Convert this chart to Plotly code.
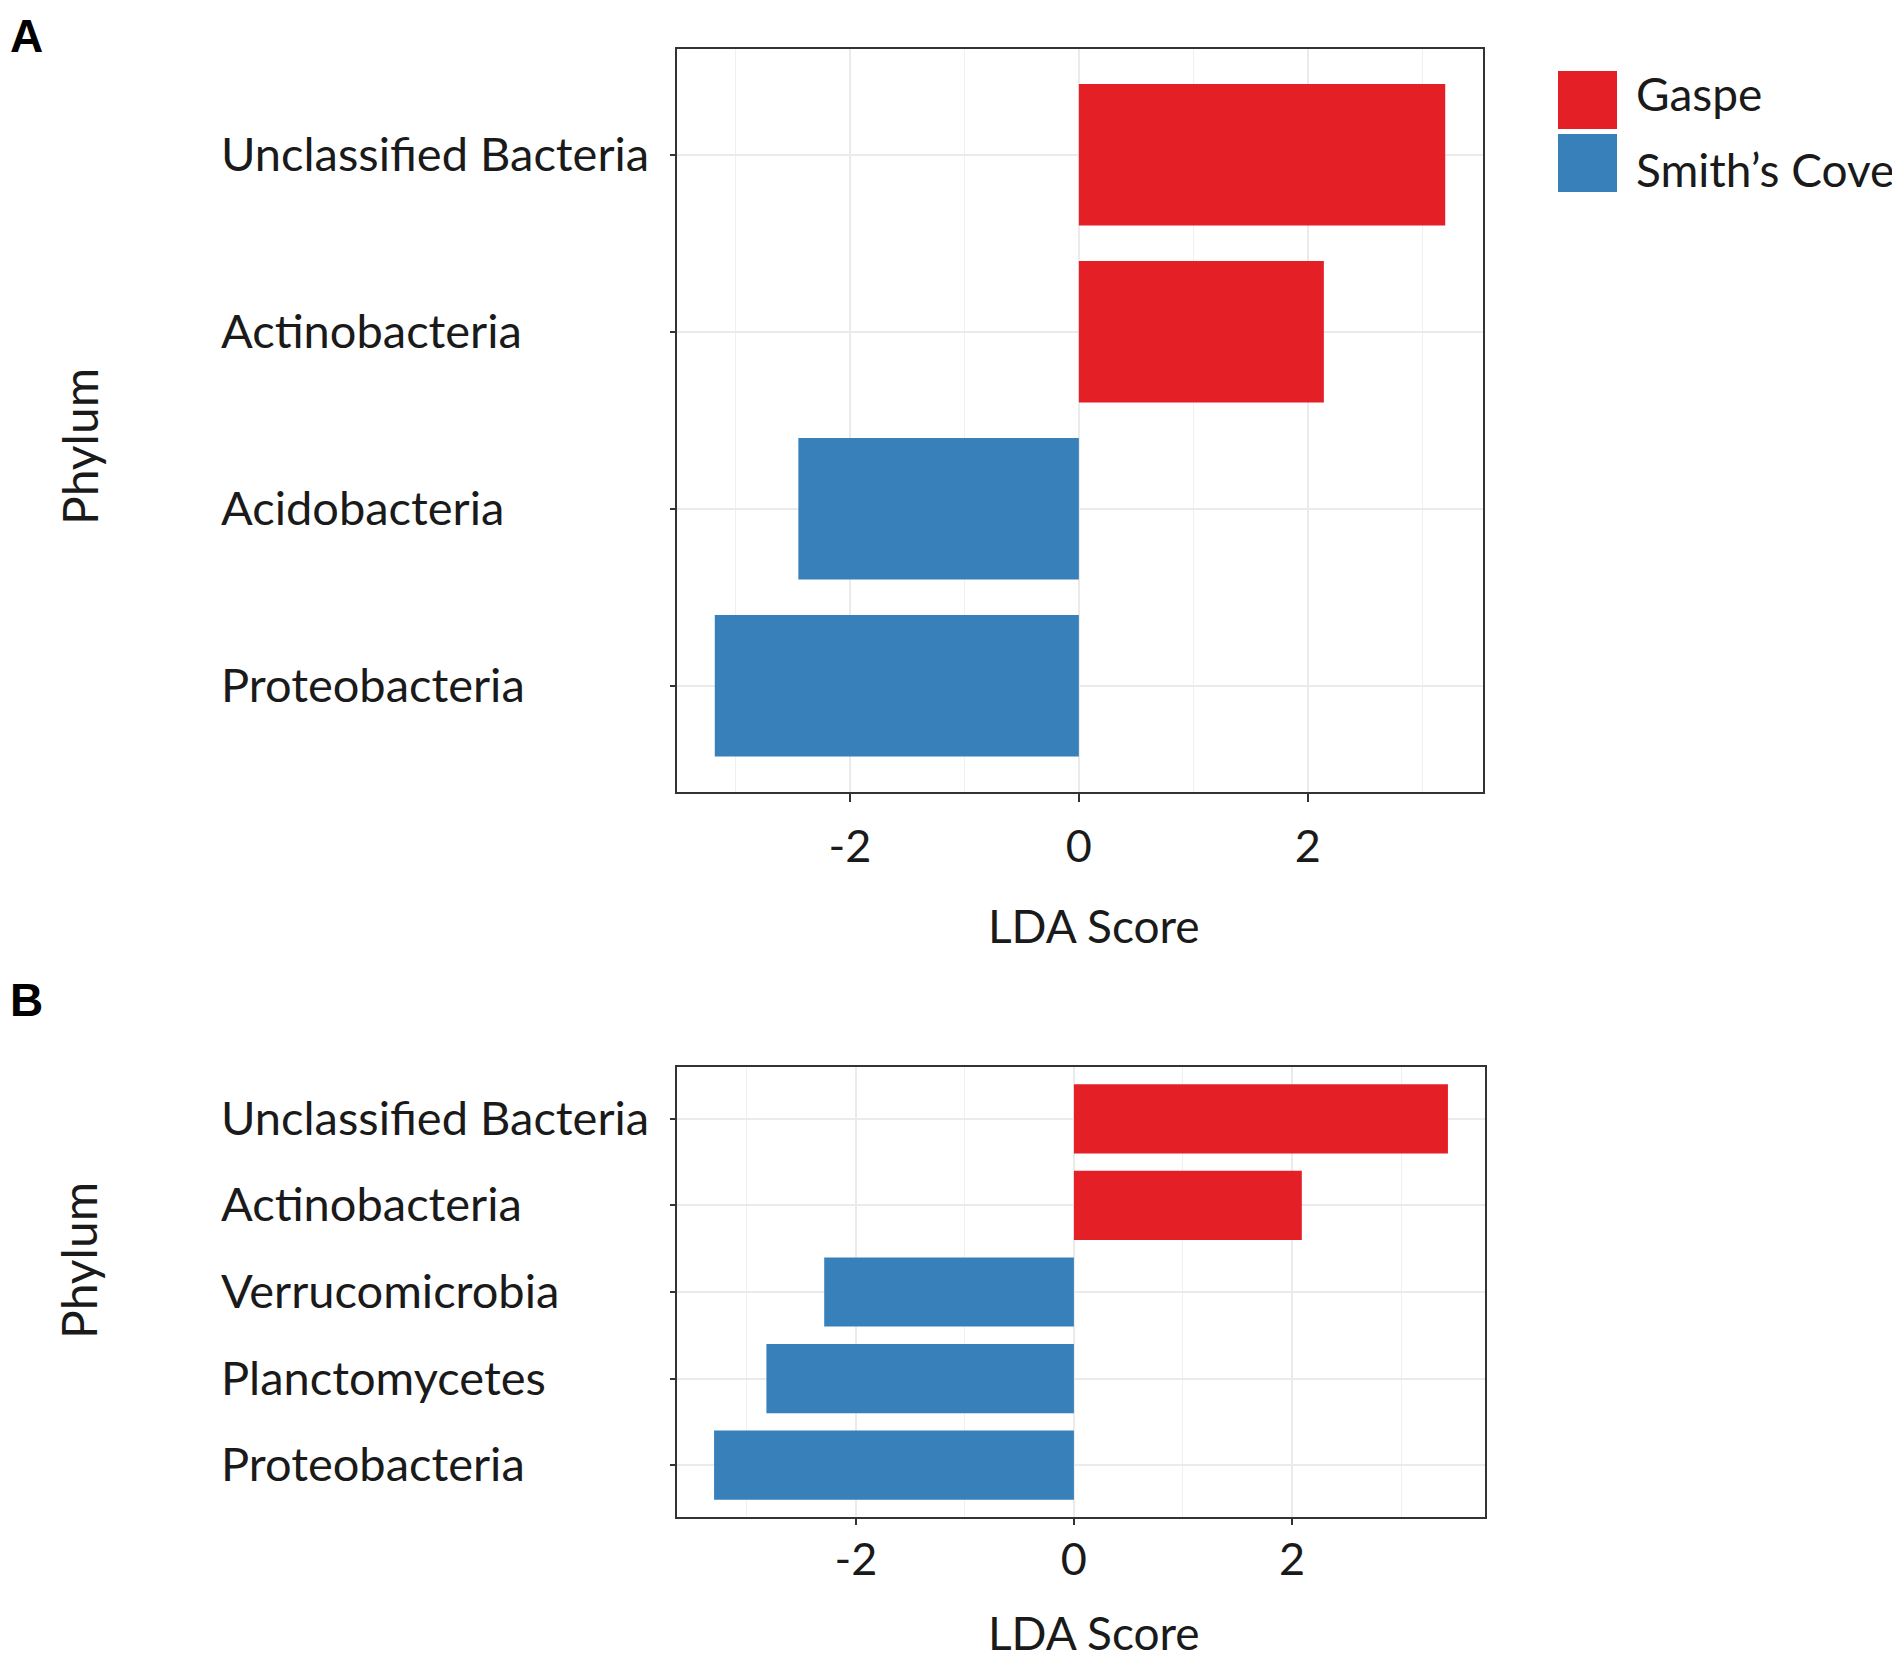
import plotly.graph_objects as go

# LDA scores
phyla_a = ["Unclassified Bacteria", "Actinobacteria", "Acidobacteria", "Proteobacteria"]
lda_a = [3.20, 2.14, -2.45, -3.18]
site_a = ["Gaspe", "Gaspe", "Smith’s Cove", "Smith’s Cove"]

phyla_b = ["Unclassified Bacteria", "Actinobacteria", "Verrucomicrobia", "Planctomycetes", "Proteobacteria"]
lda_b = [3.43, 2.09, -2.29, -2.82, -3.30]
site_b = ["Gaspe", "Gaspe", "Smith’s Cove", "Smith’s Cove", "Smith’s Cove"]

sites = ["Gaspe", "Smith’s Cove"]
x_ticks = [-2, 0, 2]

# the page body has an 8px margin, so the figure is a bit smaller and
# all positions below are page pixels shifted by that margin
OFF = 8
W, H = 1900 - OFF, 1657 - OFF
FONT = "Lato"
TXT = "#1a1a1a"
colors = {"Gaspe": "#E41F26", "Smith’s Cove": "#3780BA"}


def px(x):
    return (x - OFF) / W


def py(y):
    return 1 - (y - OFF) / H


fig = go.Figure()

fig.add_trace(go.Bar(x=lda_a, y=phyla_a, orientation="h", width=0.8,
                     marker=dict(color=[colors[s] for s in site_a], line_width=0),
                     xaxis="x", yaxis="y", showlegend=False))
fig.add_trace(go.Bar(x=lda_b, y=phyla_b, orientation="h", width=0.8,
                     marker=dict(color=[colors[s] for s in site_b], line_width=0),
                     xaxis="x2", yaxis="y2", showlegend=False))


def xaxis_style(domain, rng, anchor, standoff, ticklen):
    return dict(domain=domain, range=rng, anchor=anchor,
                tickvals=x_ticks, ticktext=[str(t) for t in x_ticks],
                showgrid=True, gridcolor="#EBEBEB", gridwidth=2,
                minor=dict(tickvals=[-3, -1, 1, 3], showgrid=True,
                           gridcolor="#F0F0F0", gridwidth=1, ticks=""),
                zeroline=False, showline=True, mirror=True,
                linecolor="#333333", linewidth=2,
                ticks="outside", ticklen=ticklen, tickwidth=2, tickcolor="#333333",
                tickfont=dict(family=FONT, size=45, color=TXT),
                ticklabelstandoff=standoff)


def yaxis_style(domain, cats, anchor):
    n = len(cats)
    return dict(domain=domain, type="category", categoryorder="array",
                categoryarray=cats, range=[n - 0.4, -0.6], anchor=anchor,
                showticklabels=False, showgrid=True, gridcolor="#EBEBEB", gridwidth=2,
                zeroline=False, showline=True, mirror=True,
                linecolor="#333333", linewidth=2,
                ticks="outside", ticklen=5, tickwidth=2, tickcolor="#333333")


fig.update_layout(
    xaxis=xaxis_style([px(677), px(1483)], [-3.51, 3.53], "y", 6, 8),
    yaxis=yaxis_style([py(792), py(48.5)], phyla_a, "x"),
    xaxis2=xaxis_style([px(677), px(1485)], [-3.64, 3.77], "y2", -4, 6),
    yaxis2=yaxis_style([py(1517), py(1067)], phyla_b, "x2"),
)

ann = []
for cats, yref in [(phyla_a, "y"), (phyla_b, "y2")]:
    for c in cats:
        ann.append(dict(text=c, xref="paper", x=px(219), xanchor="left",
                        yref=yref, y=c, yanchor="middle", yshift=2, showarrow=False,
                        font=dict(family=FONT, size=47, color=TXT)))

# axis titles, panel letters
for txt, x, y, ang, sz in [("LDA Score", 1094, 925, 0, 46), ("LDA Score", 1094, 1632, 0, 46),
                           ("Phylum", 80, 447, -90, 48), ("Phylum", 78, 1261, -90, 48)]:
    ann.append(dict(text=txt, xref="paper", yref="paper", x=px(x), y=py(y),
                    xanchor="center", yanchor="middle", textangle=ang, showarrow=False,
                    font=dict(family=FONT, size=sz, color=TXT)))
for txt, y in [("A", 0), ("B", 972)]:
    ann.append(dict(text="<b>" + txt + "</b>", xref="paper", yref="paper",
                    x=px(OFF), y=py(max(y, OFF)), xanchor="left", yanchor="top",
                    showarrow=False,
                    font=dict(family="Liberation Sans", size=46, color="#000000")))

# legend drawn by hand to get the large keys
shapes = []
for i, s in enumerate(sites):
    top = 71 + i * 63
    shapes.append(dict(type="rect", xref="paper", yref="paper",
                       x0=px(1558), x1=px(1617), y0=py(top + 58), y1=py(top),
                       fillcolor=colors[s], line_width=0))
    ann.append(dict(text=s, xref="paper", yref="paper", x=px(1634), y=py(top + 22 + i * 14),
                    xanchor="left", yanchor="middle", showarrow=False,
                    font=dict(family=FONT, size=46, color=TXT)))

fig.update_layout(
    width=W, height=H,
    margin=dict(l=0, r=0, t=0, b=0),
    paper_bgcolor="white", plot_bgcolor="white",
    annotations=ann, shapes=shapes,
    showlegend=False,
)

fig.write_html("out.html")
